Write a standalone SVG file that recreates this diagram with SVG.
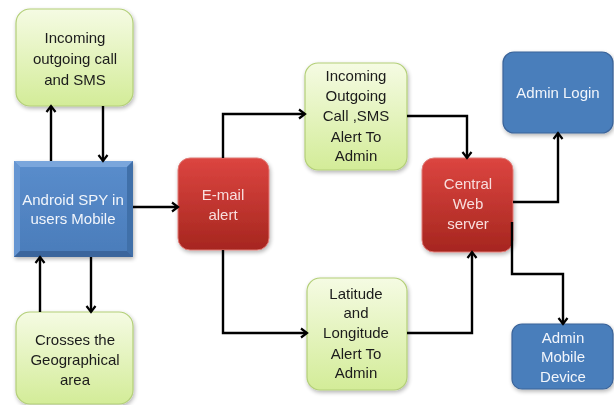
<svg xmlns="http://www.w3.org/2000/svg" width="614" height="405" viewBox="0 0 614 405">
<defs>
<linearGradient id="gGreen" x1="0" y1="0" x2="0" y2="1">
<stop offset="0" stop-color="#f5fbe3"/>
<stop offset="1" stop-color="#d3ec98"/>
</linearGradient>
<linearGradient id="gRed" x1="0" y1="0" x2="0" y2="1">
<stop offset="0" stop-color="#dc4540"/>
<stop offset="1" stop-color="#a6261f"/>
</linearGradient>
<linearGradient id="gBlue" x1="0" y1="0" x2="0" y2="1">
<stop offset="0" stop-color="#5a8dcc"/>
<stop offset="1" stop-color="#4a7cba"/>
</linearGradient>
<filter id="sh" x="-20%" y="-20%" width="140%" height="140%">
<feGaussianBlur in="SourceAlpha" stdDeviation="2"/>
<feOffset dx="1" dy="2" result="b"/>
<feComponentTransfer><feFuncA type="linear" slope="0.3"/></feComponentTransfer>
<feMerge><feMergeNode/><feMergeNode in="SourceGraphic"/></feMerge>
</filter>
<marker id="arr" markerUnits="userSpaceOnUse" markerWidth="12" markerHeight="12" viewBox="0 0 12 12" refX="10" refY="6" orient="auto">
<path d="M4,1.5 L10,6 L4,10.5" fill="none" stroke="#000" stroke-width="2.2"/>
</marker>
</defs>
<style>
.green{fill:url(#gGreen);stroke:#b3cf78;stroke-width:1.2}
.red{fill:url(#gRed);stroke:#e07a76;stroke-width:1}
.blue{fill:#4a7ebb;stroke:#3a649a;stroke-width:1.2}
text{font-family:"Liberation Sans",Arial,sans-serif;font-size:15px;text-anchor:middle}
.dk{fill:#1b1b1b}
.wt{fill:#f1f5fb}
.pk{fill:#f8dedd}
.conn path{fill:none;stroke:#000;stroke-width:2.4;marker-end:url(#arr)}
</style>
<rect width="614" height="405" fill="#ffffff"/>

<g id="n_calls" filter="url(#sh)">
<rect class="green" x="16" y="9" width="117" height="97" rx="14"/>
<text class="dk" x="75" y="43">Incoming</text>
<text class="dk" x="75" y="64">outgoing call</text>
<text class="dk" x="75" y="85">and SMS</text>
</g>

<g id="n_android" filter="url(#sh)">
<rect x="14" y="161" width="119" height="96" fill="url(#gBlue)"/>
<polygon points="14,161 133,161 127,167 20,167" fill="#7aa6dc"/>
<polygon points="14,161 20,167 20,251 14,257" fill="#6696d2"/>
<polygon points="133,161 133,257 127,251 127,167" fill="#3f6fa9"/>
<polygon points="14,257 133,257 127,251 20,251" fill="#3a659c"/>
<text class="wt" x="73" y="205">Android SPY in</text>
<text class="wt" x="73" y="224">users Mobile</text>
</g>

<g id="n_geo" filter="url(#sh)">
<rect class="green" x="16" y="312" width="117" height="92" rx="14"/>
<text class="dk" x="75" y="345">Crosses the</text>
<text class="dk" x="75" y="365">Geographical</text>
<text class="dk" x="75" y="385">area</text>
</g>

<g id="n_email" filter="url(#sh)">
<rect class="red" x="178" y="158" width="91" height="92" rx="12"/>
<text class="pk" x="223" y="200">E-mail</text>
<text class="pk" x="223" y="220">alert</text>
</g>

<g id="n_callalert" filter="url(#sh)">
<rect class="green" x="305" y="63" width="102" height="107" rx="13"/>
<text class="dk" x="356" y="81">Incoming</text>
<text class="dk" x="356" y="101">Outgoing</text>
<text class="dk" x="356" y="121">Call ,SMS</text>
<text class="dk" x="356" y="142">Alert To</text>
<text class="dk" x="356" y="161">Admin</text>
</g>

<g id="n_latlong" filter="url(#sh)">
<rect class="green" x="307" y="278" width="100" height="112" rx="13"/>
<text class="dk" x="356" y="299">Latitude</text>
<text class="dk" x="356" y="318">and</text>
<text class="dk" x="356" y="338">Longitude</text>
<text class="dk" x="356" y="359">Alert To</text>
<text class="dk" x="356" y="378">Admin</text>
</g>

<g id="n_server" filter="url(#sh)">
<rect class="red" x="422" y="158" width="91" height="94" rx="12"/>
<text class="pk" x="468" y="189">Central</text>
<text class="pk" x="468" y="209">Web</text>
<text class="pk" x="468" y="229">server</text>
</g>

<g id="n_login" filter="url(#sh)">
<rect class="blue" x="503" y="52" width="110" height="81" rx="11"/>
<text class="wt" x="558" y="98">Admin Login</text>
</g>

<g id="n_mobile" filter="url(#sh)">
<rect class="blue" x="512" y="324" width="101" height="65" rx="10"/>
<text class="wt" x="563" y="343">Admin</text>
<text class="wt" x="563" y="362">Mobile</text>
<text class="wt" x="563" y="382">Device</text>
</g>

<g id="connectors" class="conn">
<path d="M51,161 V106"/>
<path d="M103,106 V161"/>
<path d="M40,312 V257"/>
<path d="M91,257 V312"/>
<path d="M133,207 H178"/>
<path d="M223,158 V114 H305"/>
<path d="M223,250 V333 H307"/>
<path d="M407,116 H467 V158"/>
<path d="M407,333 H472 V252"/>
<path d="M513,202 H558 V133"/>
<path d="M512,222 V274 H563 V324"/>
</g>
</svg>
